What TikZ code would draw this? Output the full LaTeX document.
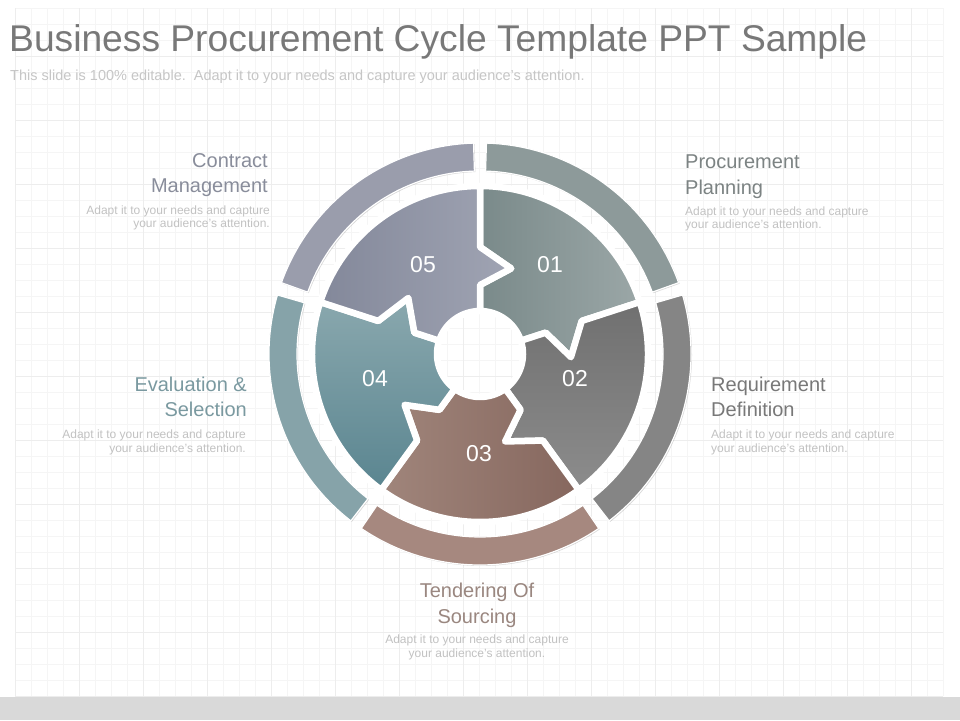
\documentclass[tikz,border=0pt]{standalone}
\usepackage{fontspec}
\setmainfont{Liberation Sans}
\usetikzlibrary{shadows}
\definecolor{gridminor}{HTML}{F5F5F5}
\definecolor{gridmajor}{HTML}{EDEDED}
\definecolor{barcol}{HTML}{D9D9D9}
\definecolor{titlecol}{HTML}{787878}
\definecolor{subcol}{HTML}{C6C6C6}
\definecolor{desccol}{HTML}{C2C2C2}
\definecolor{lab01}{HTML}{7C8383}
\definecolor{lab02}{HTML}{787878}
\definecolor{lab03}{HTML}{9A8780}
\definecolor{lab04}{HTML}{7A99A0}
\definecolor{lab05}{HTML}{898D9B}
\definecolor{ring01}{HTML}{8D9A9A}
\definecolor{ring02}{HTML}{858585}
\definecolor{ring03}{HTML}{A6887F}
\definecolor{ring04}{HTML}{86A3A9}
\definecolor{ring05}{HTML}{9A9DAC}
\definecolor{s01a}{HTML}{7A8A8A}
\definecolor{s01b}{HTML}{9BA7A7}
\definecolor{s02a}{HTML}{707070}
\definecolor{s02b}{HTML}{8C8C8C}
\definecolor{s03a}{HTML}{A0857B}
\definecolor{s03b}{HTML}{86675E}
\definecolor{s04a}{HTML}{8AA8AE}
\definecolor{s04b}{HTML}{5A8590}
\definecolor{s05a}{HTML}{83889A}
\definecolor{s05b}{HTML}{A0A4B3}
\newcommand\wheelseg[2]{%
  \pgfmathsetmacro\wsA{#1-72}\pgfmathsetmacro\wsB{#1}%
  \path[segbase,#2] (\wsA:168) arc[start angle=\wsA, end angle=\wsB, radius=168]
    -- (\wsB:107) -- ({\wsB-20}:91) -- (\wsB:69) -- (\wsB:43)
    arc[start angle=\wsB, end angle=\wsA, radius=43]
    -- (\wsA:69) -- ({\wsA-20}:91) -- (\wsA:107) -- cycle;}
\newcommand\ringseg[2]{%
  \pgfmathsetmacro\wsA{#1-72+1.75}\pgfmathsetmacro\wsB{#1-1.75}%
  \path[ringbase,#2] (\wsA:211) arc[start angle=\wsA, end angle=\wsB, radius=211]
    -- (\wsB:183) arc[start angle=\wsB, end angle=\wsA, radius=183] -- cycle;}
\tikzset{
  segbase/.style={draw=white, line width=6.5pt, line join=round,
    drop shadow={shadow xshift=1.5pt, shadow yshift=-1.5pt, opacity=.3, fill=black!60}},
  ringbase/.style={draw=white, line width=1.2pt,
    drop shadow={shadow xshift=1pt, shadow yshift=-1pt, opacity=.25, fill=black!60}},
  numtext/.style={text=white, font=\fontsize{23}{25}\selectfont, inner sep=0pt},
  labtext/.style={font=\fontsize{20}{24}\selectfont, inner sep=0pt},
  desctext/.style={font=\fontsize{12}{14}\selectfont, text=desccol, inner sep=0pt},
}
\begin{document}
\begin{tikzpicture}[x=1pt,y=1pt]
\useasboundingbox (0,0) rectangle (960,720);
\fill[white] (0,0) rectangle (960,720);
% grid
\foreach \gx in {15,31,...,943} \draw[gridminor, line width=0.8pt] (\gx,24) -- (\gx,712);
\foreach \gy in {24,40,...,712} \draw[gridminor, line width=0.8pt] (15,\gy) -- (943,\gy);
\foreach \gx in {15,79,...,943} \draw[gridmajor, line width=0.9pt] (\gx,24) -- (\gx,712);
\foreach \gy in {24,88,...,712} \draw[gridmajor, line width=0.9pt] (15,\gy) -- (943,\gy);
\fill[barcol] (0,0) rectangle (960,23);
% title
\node[anchor=base west, inner sep=0pt, text=titlecol, font=\fontsize{37.2}{41}\selectfont] (title) at (9,668) {Business Procurement Cycle Template PPT Sample};
\node[anchor=base west, inner sep=0pt, text=subcol, font=\fontsize{14.5}{16}\selectfont] (subtitle) at (10,639) {This slide is 100\% editable.\ \ Adapt it to your needs and capture your audience's attention.};
% wheel
\begin{scope}[shift={(480,366)}]
  \ringseg{90}{fill=ring01}
  \ringseg{18}{fill=ring02}
  \ringseg{-54}{fill=ring03}
  \ringseg{-126}{fill=ring04}
  \ringseg{162}{fill=ring05}
  \wheelseg{90}{left color=s01a, right color=s01b}
  \wheelseg{18}{top color=s02a, bottom color=s02b}
  \wheelseg{-54}{left color=s03a, right color=s03b}
  \wheelseg{-126}{top color=s04a, bottom color=s04b}
  \wheelseg{162}{left color=s05a, right color=s05b}
\end{scope}
% numbers
\node[numtext] (n05) at (423,455) {05};
\node[numtext] (n01) at (550,455) {01};
\node[numtext] (n04) at (375,341) {04};
\node[numtext] (n02) at (575,341) {02};
\node[numtext] (n03) at (479,266) {03};
% labels
\node[labtext, text=lab05, anchor=base east] (l5a) at (268,552) {Contract};
\node[labtext, text=lab05, anchor=base east] (l5b) at (268,527) {Management};
\node[desctext, anchor=base east] (d5a) at (270,505) {Adapt it to your needs and capture};
\node[desctext, anchor=base east] (d5b) at (270,492) {your audience's attention.};
\node[labtext, text=lab01, anchor=base west] (l1a) at (685,551) {Procurement};
\node[labtext, text=lab01, anchor=base west] (l1b) at (685,525) {Planning};
\node[desctext, anchor=base west] (d1a) at (685,504) {Adapt it to your needs and capture};
\node[desctext, anchor=base west] (d1b) at (685,491) {your audience's attention.};
\node[labtext, text=lab02, anchor=base west] (l2a) at (711,328) {Requirement};
\node[labtext, text=lab02, anchor=base west] (l2b) at (711,303) {Definition};
\node[desctext, anchor=base west] (d2a) at (711,281) {Adapt it to your needs and capture};
\node[desctext, anchor=base west] (d2b) at (711,267) {your audience's attention.};
\node[labtext, text=lab04, anchor=base east] (l4a) at (247,328) {Evaluation \&};
\node[labtext, text=lab04, anchor=base east] (l4b) at (247,303) {Selection};
\node[desctext, anchor=base east] (d4a) at (246,281) {Adapt it to your needs and capture};
\node[desctext, anchor=base east] (d4b) at (246,267) {your audience's attention.};
\node[labtext, text=lab03, anchor=base] (l3a) at (477,123) {Tendering Of};
\node[labtext, text=lab03, anchor=base] (l3b) at (477,97) {Sourcing};
\node[desctext, anchor=base] (d3a) at (477,77) {Adapt it to your needs and capture};
\node[desctext, anchor=base] (d3b) at (477,63) {your audience's attention.};
\end{tikzpicture}
\end{document}
